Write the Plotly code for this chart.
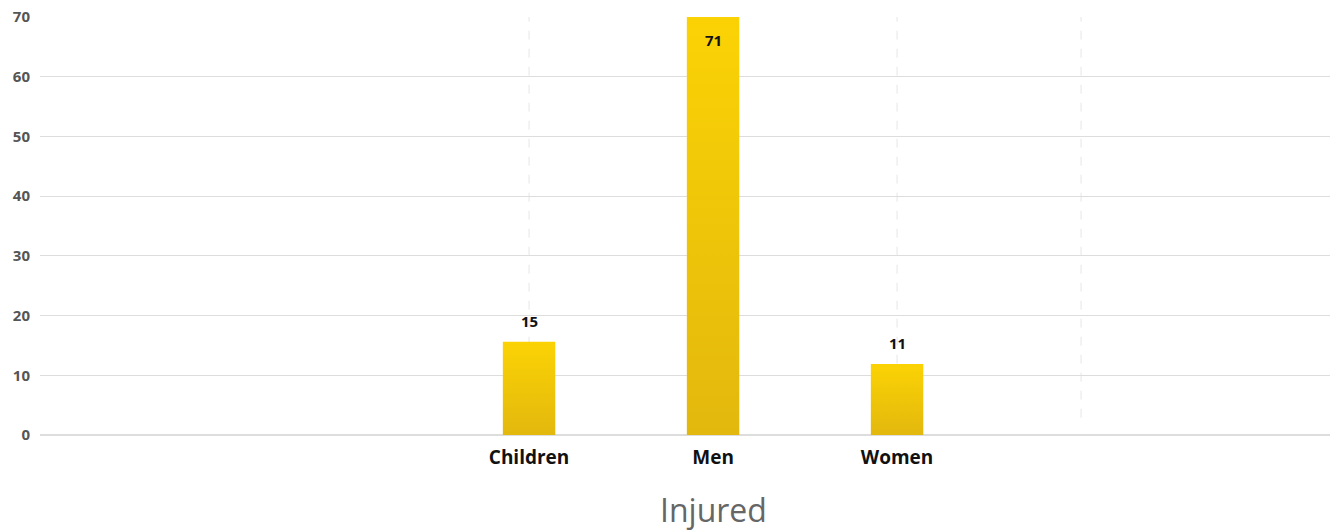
import plotly.graph_objects as go

categories = ["Children", "Men", "Women"]
values = [15.6, 71, 11.9]
labels = ["15", "71", "11"]
y_ticks = [0, 10, 20, 30, 40, 50, 60, 70]
guide_positions = [0, 1, 2, 3]
axis_title = "Injured"

Y_MAX = 70
BAR_W = 0.285
xs = list(range(len(categories)))

fig = go.Figure()

# vertical dashed guides
for g in guide_positions:
    fig.add_shape(type="line", x0=g, x1=g, y0=2.9, y1=Y_MAX, xref="x", yref="y",
                  line=dict(color="#e6e6e6", width=1, dash="dash"), layer="below")

# bars as gradient-filled polygons
for x, v in zip(xs, values):
    fig.add_trace(go.Scatter(
        x=[x - BAR_W / 2, x + BAR_W / 2, x + BAR_W / 2, x - BAR_W / 2, x - BAR_W / 2],
        y=[0, 0, v, v, 0],
        fill="toself", mode="lines", line=dict(width=0),
        fillgradient=dict(type="vertical",
                          colorscale=[[0, "#E3B80E"], [1, "#FBD304"]]),
        hoverinfo="skip", showlegend=False))

for x, v, t in zip(xs, values, labels):
    inside = v > Y_MAX
    fig.add_annotation(x=x, y=min(v, Y_MAX), text=t, showarrow=False,
                       yshift=-23 if inside else 21,
                       font=dict(family="Open Sans", size=15, color="#111111", weight="bold"))

# axis title centred under the middle category
fig.add_annotation(x=xs[len(xs) // 2], xref="x", y=-0.179, yref="paper",
                   yanchor="middle", text=axis_title, showarrow=False,
                   font=dict(family="Open Sans", size=32, color="#666666"))

fig.update_layout(
    width=1335, height=532,
    margin=dict(l=40, r=5, t=17, b=97),
    paper_bgcolor="white", plot_bgcolor="white",
    font=dict(family="Open Sans"),
    xaxis=dict(range=[-2.658, 4.353], tickmode="array", tickvals=xs, ticktext=categories,
               showgrid=False, zeroline=False, showline=False, ticks="",
               ticklabelstandoff=9,
               tickfont=dict(size=19, color="#111111", weight="bold")),
    yaxis=dict(range=[0, Y_MAX], tickvals=y_ticks, showgrid=True, gridcolor="#dddddd",
               gridwidth=1, zeroline=True, zerolinecolor="#dddddd", showline=False,
               ticks="", ticklabelstandoff=9,
               tickfont=dict(size=15, color="#555555", weight="bold")),
)

fig.write_html("out.html")
